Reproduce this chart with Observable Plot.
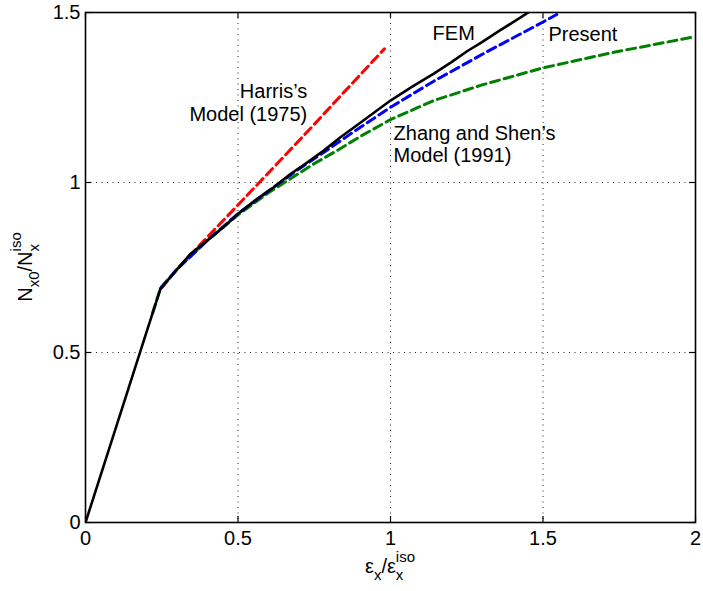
<!DOCTYPE html>
<html><head><meta charset="utf-8">
<script src="https://cdn.jsdelivr.net/npm/d3@7"></script>
<script src="https://cdn.jsdelivr.net/npm/@observablehq/plot@0.6"></script>
<style>body{margin:0;background:#fff;}</style>
</head><body><div id="chart"></div>
<script>
const xTicks = [0, 0.5, 1, 1.5, 2];
const yTicks = [0, 0.5, 1, 1.5];

const femX = [0, 0.1, 0.2, 0.246, 0.279, 0.344, 0.399, 0.453, 0.5, 0.563, 0.617, 0.672, 0.705, 0.78, 0.836, 0.9, 1.0, 1.07, 1.142, 1.2, 1.251, 1.3, 1.36, 1.41, 1.452];
const femY = [0, 0.28, 0.56, 0.688, 0.722, 0.790, 0.829, 0.869, 0.908, 0.952, 0.986, 1.025, 1.045, 1.093, 1.133, 1.175, 1.241, 1.281, 1.320, 1.354, 1.386, 1.413, 1.448, 1.476, 1.5];

const presentX = [0.246, 0.3, 0.4, 0.5, 0.6, 0.7, 0.8, 0.869, 1.0, 1.142, 1.317, 1.5, 1.545];
const presentY = [0.688, 0.745, 0.830, 0.908, 0.975, 1.040, 1.100, 1.143, 1.221, 1.298, 1.385, 1.472, 1.494];

const harrisX = [0.25, 0.3, 0.377, 0.5, 0.628, 0.749, 0.85, 0.98];
const harrisY = [0.69, 0.745, 0.818, 0.934, 1.055, 1.170, 1.268, 1.393];

const zhangX = [0.22, 0.246, 0.3, 0.4, 0.5, 0.6, 0.672, 0.749, 0.825, 0.9, 1.0, 1.142, 1.3, 1.5, 1.732, 2.0];
const zhangY = [0.616, 0.690, 0.745, 0.830, 0.905, 0.970, 1.011, 1.055, 1.094, 1.135, 1.185, 1.241, 1.287, 1.337, 1.383, 1.429];

const labelText = ["FEM", "Present", "Harris’s\nModel (1975)", "Zhang and Shen’s\nModel (1991)"];
const labelX = [1.138, 1.518, 0.727, 1.010];
const labelY = [1.418, 1.415, 1.182, 1.059];
const labelAnchor = ["start", "start", "end", "start"];

const rows = (xs, ys) => xs.map((x, i) => ({x, y: ys[i]}));
const labels = labelText.map((t, i) => ({t, x: labelX[i], y: labelY[i], a: labelAnchor[i]}));

const FONT = '"Liberation Sans", Arial, Helvetica, sans-serif';
const W = 703, H = 591, ML = 85, MR = 8, MT = 12, MB = 69;
const FW = W - ML - MR, FH = H - MT - MB;
const TL = 6;

const dashed = {x: "x", y: "y", strokeWidth: 3, strokeDasharray: "9,5", clip: true};

const chart = Plot.plot({
  width: W, height: H,
  marginLeft: ML, marginRight: MR, marginTop: MT, marginBottom: MB,
  style: {fontFamily: FONT, fontSize: "20px", background: "white", color: "black"},
  x: {domain: [0, 2]},
  y: {domain: [0, 1.5]},
  marks: [
    Plot.ruleX(xTicks.slice(1, -1), {stroke: "#222", strokeWidth: 1, strokeDasharray: "1,4.5"}),
    Plot.ruleY(yTicks.slice(1, -1), {stroke: "#222", strokeWidth: 1, strokeDasharray: "1,4.5"}),
    Plot.line(rows(harrisX, harrisY), {...dashed, stroke: "#ff0000"}),
    Plot.line(rows(zhangX, zhangY), {...dashed, stroke: "#008000"}),
    Plot.line(rows(presentX, presentY), {...dashed, stroke: "#0000ff"}),
    Plot.line(rows(femX, femY), {x: "x", y: "y", stroke: "black", strokeWidth: 2.6, clip: true}),
    Plot.tickX(xTicks, {x: d => d, insetTop: FH - TL, stroke: "black", strokeWidth: 1.2}),
    Plot.tickX(xTicks, {x: d => d, insetBottom: FH - TL, stroke: "black", strokeWidth: 1.2}),
    Plot.tickY(yTicks, {y: d => d, insetRight: FW - TL, stroke: "black", strokeWidth: 1.2}),
    Plot.tickY(yTicks, {y: d => d, insetLeft: FW - TL, stroke: "black", strokeWidth: 1.2}),
    Plot.frame({stroke: "black", strokeWidth: 1.6}),
    Plot.axisX({ticks: xTicks, tickSize: 0, tickPadding: 8, label: null, fontSize: 20, tickFormat: d => String(d)}),
    Plot.axisY({ticks: yTicks, tickSize: 0, tickPadding: 5, label: null, fontSize: 20, tickFormat: d => String(d)}),
    Plot.text(labels.filter(d => d.a === "start"), {x: "x", y: "y", text: "t", textAnchor: "start", lineAnchor: "bottom", lineHeight: 1.12, fontSize: 20, fill: "black"}),
    Plot.text(labels.filter(d => d.a === "end"), {x: "x", y: "y", text: "t", textAnchor: "end", lineAnchor: "bottom", lineHeight: 1.12, fontSize: 20, fill: "black"})
  ]
});
document.getElementById("chart").append(chart);

// One text element per axis label; sub/superscripts as tspans.
function richLabel(svg, cx, cy, rotate, parts) {
  const t = d3.select(svg).append("text")
    .attr("font-family", FONT).attr("fill", "black").attr("font-size", 20)
    .attr("text-anchor", "middle")
    .attr("transform", `translate(${cx},${cy}) rotate(${rotate})`);
  let level = 0;
  for (const p of parts) {
    t.append("tspan").attr("dy", -level).attr("font-size", 20).text(p.t);
    level = 0;
    if (p.sub) {
      t.append("tspan").attr("dy", 7).attr("font-size", 15).text(p.sub);
      level = 7;
      if (p.sup) {
        const w = p.sub.length * 7.5;
        t.append("tspan").attr("dx", -w).attr("dy", -18).attr("font-size", 15).text(p.sup);
        level = -11;
      }
    }
  }
}
const sx = chart.scale("x"), sy = chart.scale("y");
richLabel(chart, sx.apply(1), 573, 0, [{t: "ε", sub: "x"}, {t: "/ε", sub: "x", sup: "iso"}]);
richLabel(chart, 32, (sy.apply(0) + sy.apply(1.5)) / 2, -90, [{t: "N", sub: "x0"}, {t: "/N", sub: "x", sup: "iso"}]);
</script>
</body></html>
